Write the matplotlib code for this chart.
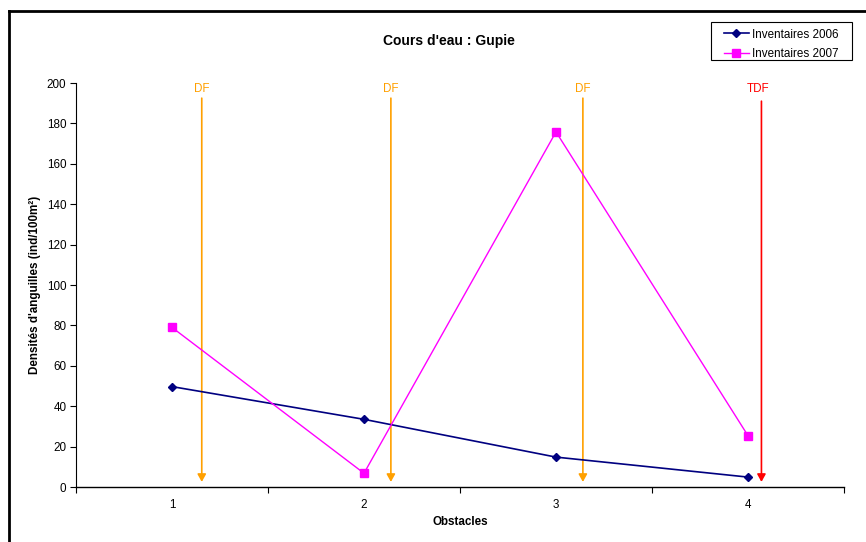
import matplotlib
matplotlib.use("Agg")
import matplotlib.pyplot as plt
from matplotlib.lines import Line2D
from matplotlib.patches import FancyArrowPatch, Rectangle

plt.rcParams['font.family'] = ['Liberation Sans', 'DejaVu Sans']

# Obstacles along the stream and eel densities (ind/100m²)
obstacles = ["1", "2", "3", "4"]
densite_2006 = [49.7, 33.5, 14.8, 4.9]
densite_2007 = [79.0, 6.8, 175.8, 25.4]

# Passability markers placed between obstacles
marker_labels = ["DF", "DF", "DF", "TDF"]
marker_pos = [1.155, 2.14, 3.14, 4.07]
marker_colors = ["#FFA000", "#FFA000", "#FFA000", "#FF0000"]

W, H = 866, 542
fig = plt.figure(figsize=(W / 100, H / 100), dpi=100)
ax = fig.add_axes([76 / W, 1 - 487 / H, (844 - 76) / W, (487 - 83) / H])

x = list(range(1, len(obstacles) + 1))
ax.plot(x, densite_2006, color="#000080", lw=1.2, marker="D", ms=4.5,
        label="Inventaires 2006")
ax.plot(x, densite_2007, color="#FF00FF", lw=1.0, marker="s", ms=5.5,
        label="Inventaires 2007")

for lab, xp, c in zip(marker_labels, marker_pos, marker_colors):
    top = 192.5 if lab == "DF" else 191.0
    arr = FancyArrowPatch((xp, top), (xp, 2.5),
                          arrowstyle="-|>,head_length=4.5,head_width=2.5",
                          color=c, lw=1.2, shrinkA=0, shrinkB=0,
                          transform=ax.transData)
    ax.add_patch(arr)
    ax.text(xp - (0.015 if lab == "TDF" else 0), 197, lab, color=c,
            ha="center", va="center", fontsize=8.4)

ax.set_xlim(0.5, 4.5)
ax.set_ylim(0, 200)
ax.set_yticks(range(0, 201, 20))
ax.set_xticks(x)
ax.set_xticklabels(obstacles)
ax.set_xticks([0.5, 1.5, 2.5, 3.5, 4.5], minor=True)
ax.tick_params(axis="x", which="major", length=0, pad=9, labelsize=8.4)
ax.tick_params(axis="x", which="minor", length=4, direction="out", width=0.8)
ax.tick_params(axis="y", length=4, direction="out", width=0.8, labelsize=8.4, pad=3)
for s in ["top", "right"]:
    ax.spines[s].set_visible(False)
ax.spines["left"].set_linewidth(0.8)
ax.spines["bottom"].set_linewidth(1.0)

ax.set_xlabel("Obstacles", fontsize=8.4, fontweight="bold", labelpad=3)
ax.set_ylabel("Densités d'anguilles (ind/100m²)", fontsize=8.4, fontweight="bold",
              labelpad=4)

fig.text(449 / W, 1 - 41 / H, "Cours d'eau : Gupie", ha="center", va="center",
         fontsize=10, fontweight="bold")

# Legend frame drawn separately, entries placed inside it
fig.add_artist(Rectangle((711 / W, 1 - 60 / H), 141 / W, 38 / H,
                         transform=fig.transFigure, facecolor="white",
                         edgecolor="black", lw=0.8, zorder=4))
leg = fig.legend(loc="upper left", bbox_to_anchor=(724 / W, 1 - 28.5 / H),
                 fontsize=8.4, frameon=False, borderpad=0, borderaxespad=0,
                 handlelength=2.1, handletextpad=0.3, labelspacing=0.65)
leg.set_zorder(5)

# Chart-area border (left and top edges)
fig.add_artist(Line2D([9 / W, 9 / W], [0, 1 - 11 / H], color="black", lw=2,
                      transform=fig.transFigure))
fig.add_artist(Line2D([8.5 / W, 1], [1 - 11 / H, 1 - 11 / H], color="black", lw=2,
                      transform=fig.transFigure))

fig.savefig("out.png", dpi=100)
